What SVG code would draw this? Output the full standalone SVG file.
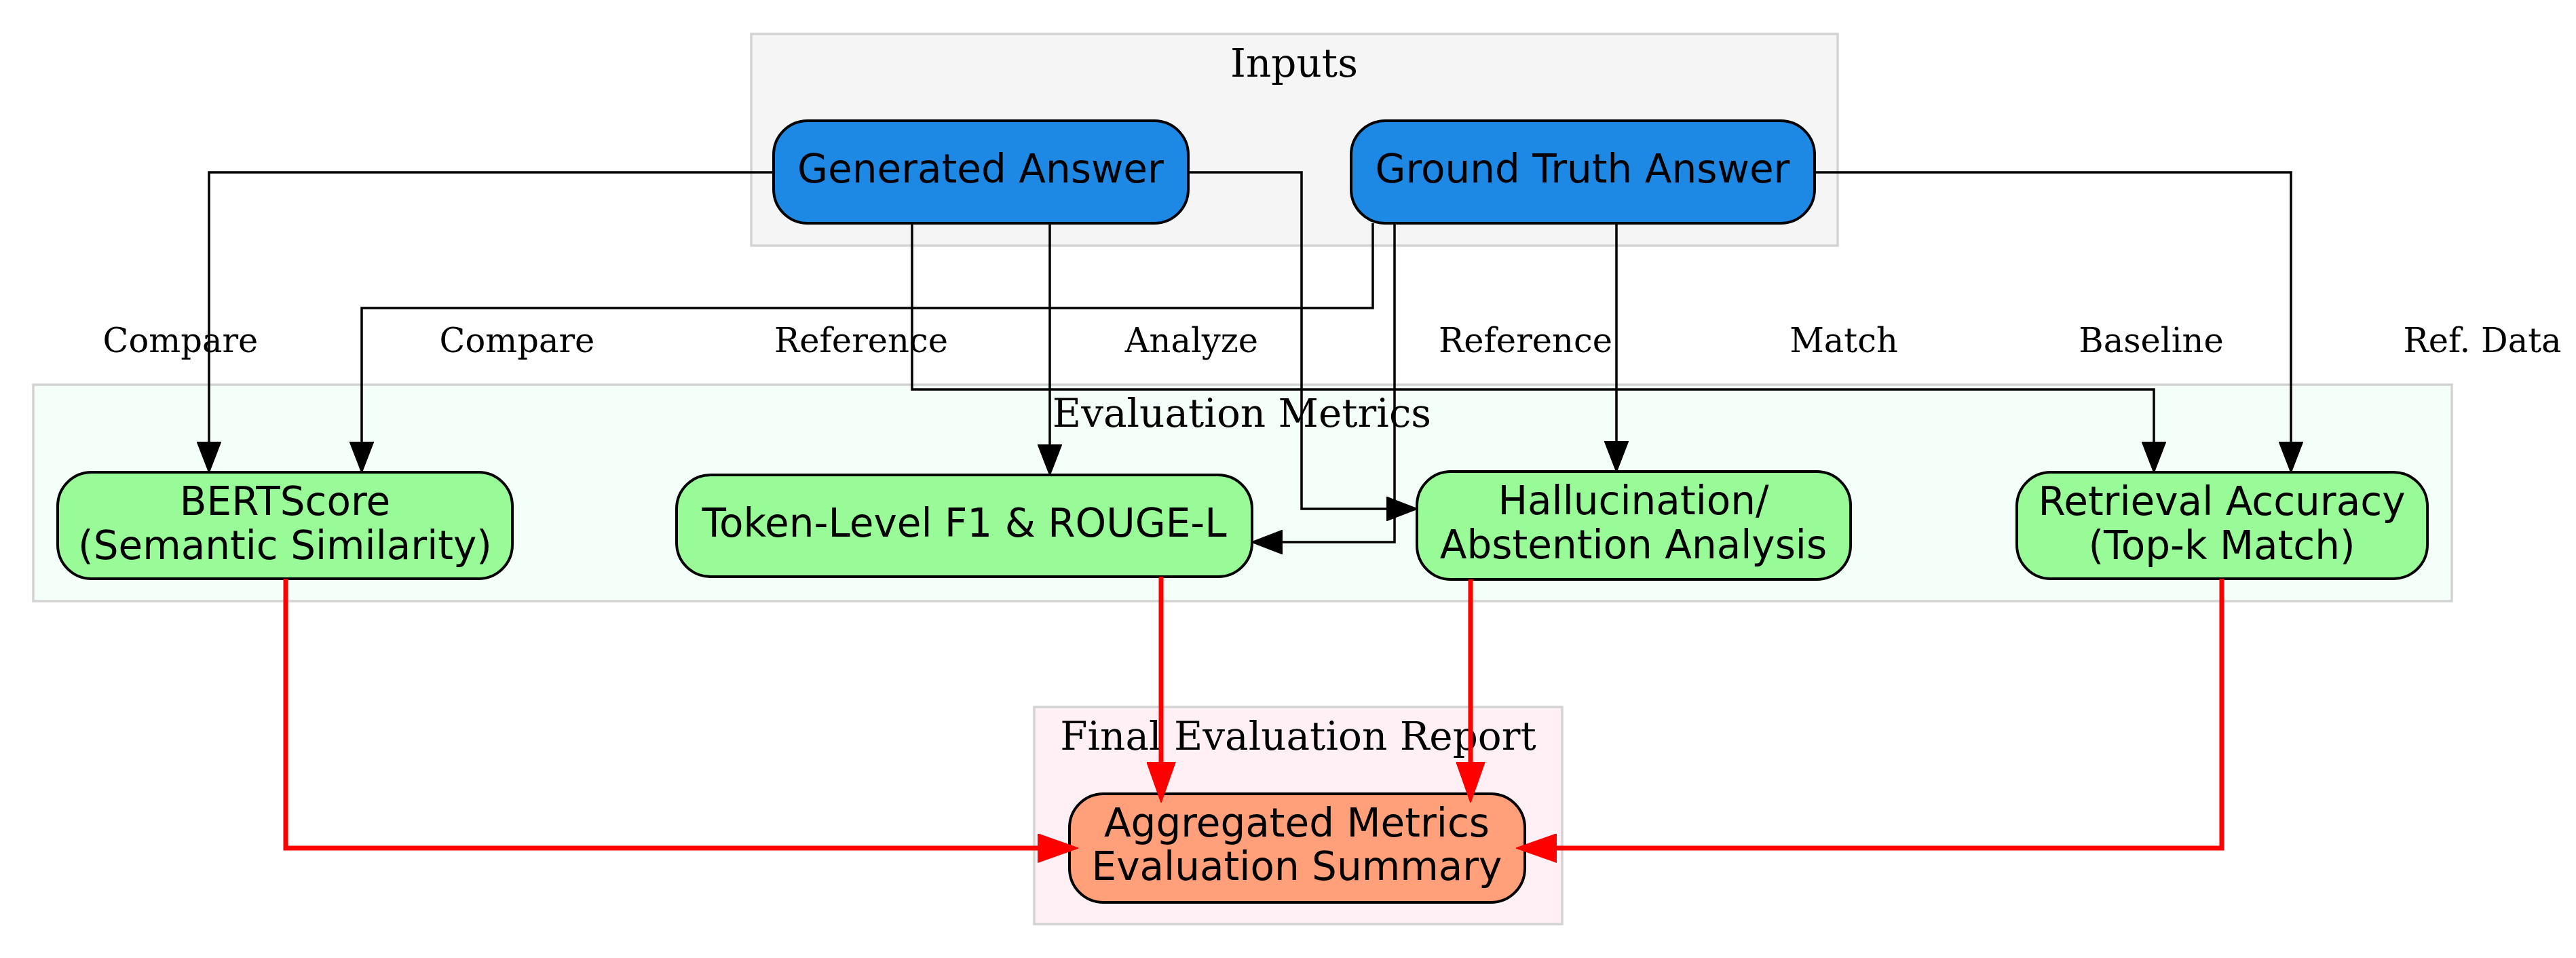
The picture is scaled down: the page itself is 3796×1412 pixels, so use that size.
<svg xmlns="http://www.w3.org/2000/svg" width="3796" height="1412" viewBox="0 0 3796 1412">
<style>
.cl{stroke:#d3d3d3;stroke-width:3.5}
.cl-t{font-family:"DejaVu Serif","Liberation Serif",serif;font-size:58px;text-anchor:middle;fill:#000}
.nd{stroke:#000;stroke-width:4}
.nd-t{font-family:"DejaVu Sans","Liberation Sans",sans-serif;font-size:58px;text-anchor:middle;fill:#000}
.blue{fill:#1e88e5}
.green{fill:#98fb98}
.salmon{fill:#ffa07a}
.e{fill:none;stroke:#000;stroke-width:3.5}
.er{fill:none;stroke:#ff0000;stroke-width:7}
.lbl{font-family:"DejaVu Serif","Liberation Serif",serif;font-size:49.5px;text-anchor:middle;fill:#000}
</style>
<defs>
<marker id="ab" markerUnits="userSpaceOnUse" markerWidth="46" markerHeight="36" refX="1" refY="18" orient="auto">
<path d="M1,1 L45,18 L1,35 Z" fill="#000" stroke="#000" stroke-width="2"/>
</marker>
<marker id="ar" markerUnits="userSpaceOnUse" markerWidth="60" markerHeight="43" refX="1" refY="21.5" orient="auto">
<path d="M1,1 L59,21.5 L1,42 Z" fill="#ff0000" stroke="#ff0000" stroke-width="2"/>
</marker>
</defs>
<rect width="3796" height="1412" fill="#fff"/>

<g id="cluster_inputs">
<rect class="cl" x="1107" y="50" width="1601" height="312" fill="#f5f5f5"/>
<text class="cl-t" x="1907" y="113">Inputs</text>
</g>
<g id="cluster_metrics">
<rect class="cl" x="49" y="567" width="3564" height="319" fill="#f5fffa"/>
<text class="cl-t" x="1830" y="629">Evaluation Metrics</text>
</g>
<g id="cluster_report">
<rect class="cl" x="1524" y="1042" width="778" height="320" fill="#fff0f5"/>
<text class="cl-t" x="1913" y="1105">Final Evaluation Report</text>
</g>

<g id="generated">
<rect class="nd blue" x="1140" y="178" width="611" height="151" rx="50" ry="50"/>
<text class="nd-t" x="1445" y="269">Generated Answer</text>
</g>
<g id="ground_truth">
<rect class="nd blue" x="1991" y="178" width="683" height="151" rx="50" ry="50"/>
<text class="nd-t" x="2332" y="269">Ground Truth Answer</text>
</g>
<g id="bertscore">
<rect class="nd green" x="85" y="696" width="670" height="157" rx="50" ry="50"/>
<text class="nd-t" x="420" y="759">BERTScore</text>
<text class="nd-t" x="420" y="824">(Semantic Similarity)</text>
</g>
<g id="token_f1">
<rect class="nd green" x="997" y="700" width="848" height="150" rx="50" ry="50"/>
<text class="nd-t" x="1421" y="791">Token-Level F1 &amp; ROUGE-L</text>
</g>
<g id="hallucination">
<rect class="nd green" x="2088" y="695" width="639" height="159" rx="50" ry="50"/>
<text class="nd-t" x="2407" y="758">Hallucination/</text>
<text class="nd-t" x="2407" y="823">Abstention Analysis</text>
</g>
<g id="retrieval">
<rect class="nd green" x="2972" y="696" width="605" height="157" rx="50" ry="50"/>
<text class="nd-t" x="3274" y="759">Retrieval Accuracy</text>
<text class="nd-t" x="3274" y="824">(Top-k Match)</text>
</g>
<g id="aggregated">
<rect class="nd salmon" x="1576" y="1170" width="671" height="160" rx="50" ry="50"/>
<text class="nd-t" x="1911" y="1233">Aggregated Metrics</text>
<text class="nd-t" x="1911" y="1297">Evaluation Summary</text>
</g>

<g id="connectors">
<path class="e" d="M1140,254 H308 V652" marker-end="url(#ab)"/>
<path class="e" d="M2023,329 V454 H533 V652" marker-end="url(#ab)"/>
<path class="e" d="M1344,329 V574 H3174 V652" marker-end="url(#ab)"/>
<path class="e" d="M1547,329 V656" marker-end="url(#ab)"/>
<path class="e" d="M1751,254 H1918 V750 H2044" marker-end="url(#ab)"/>
<path class="e" d="M2055,329 V799 H1889" marker-end="url(#ab)"/>
<path class="e" d="M2382,329 V651" marker-end="url(#ab)"/>
<path class="e" d="M2674,254 H3376 V652" marker-end="url(#ab)"/>
<path class="er" d="M421,853 V1250 H1530" marker-end="url(#ar)"/>
<path class="er" d="M1711,850 V1124" marker-end="url(#ar)"/>
<path class="er" d="M2167,854 V1124" marker-end="url(#ar)"/>
<path class="er" d="M3274,853 V1250 H2293" marker-end="url(#ar)"/>
<text class="lbl" x="266" y="519">Compare</text>
<text class="lbl" x="762" y="519">Compare</text>
<text class="lbl" x="1269" y="519">Reference</text>
<text class="lbl" x="1756" y="519">Analyze</text>
<text class="lbl" x="2248" y="519">Reference</text>
<text class="lbl" x="2717" y="519">Match</text>
<text class="lbl" x="3170" y="519">Baseline</text>
<text class="lbl" x="3658" y="519">Ref. Data</text>
</g>
</svg>
